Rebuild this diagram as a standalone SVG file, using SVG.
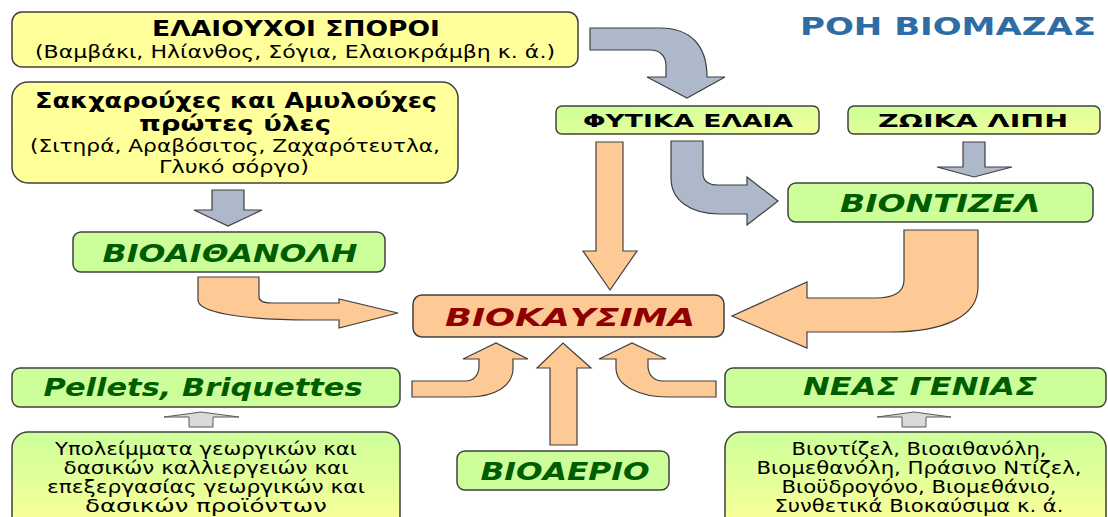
<svg xmlns="http://www.w3.org/2000/svg" width="1108" height="517" viewBox="0 0 1108 517">
<defs>
<linearGradient id="gy" x1="0" y1="0" x2="0" y2="1"><stop offset="0" stop-color="#ffff9c"/><stop offset="1" stop-color="#ffff99"/></linearGradient>
<linearGradient id="gg" x1="0" y1="0" x2="0" y2="1"><stop offset="0" stop-color="#ccff99"/><stop offset="1" stop-color="#ffff99"/></linearGradient>
<linearGradient id="gl" x1="0" y1="0" x2="1" y2="1"><stop offset="0" stop-color="#ccff99"/><stop offset="1" stop-color="#f2ff9c"/></linearGradient>
<style>
.box{stroke:#404040;stroke-width:1.5}
.yel{fill:url(#gy)}
.grn{fill:#ccff99}
.grad{fill:url(#gg)}
.lab{fill:url(#gl)}
.org{fill:#fdca95}
.t{font-family:"DejaVu Sans",Verdana,sans-serif;fill:#000;text-anchor:middle}
.b{font-weight:bold}
.gi{font-weight:bold;font-style:italic;fill:#005c00}
.ri{font-weight:bold;font-style:italic;fill:#8f0000}
.ao{fill:#fdca95;stroke:#404040;stroke-width:1.2}
.ag{fill:#adb9ca;stroke:#404040;stroke-width:1.2}
.as{fill:#d9d9d9;stroke:#595959;stroke-width:1}
</style>
</defs>
<rect width="1108" height="517" fill="#fff"/>
<text class="t b" x="948" y="35" font-size="25" style="fill:#2e6ca4" textLength="296" lengthAdjust="spacingAndGlyphs">ΡΟΗ ΒΙΟΜΑΖΑΣ</text>

<g id="connectors">
<path class="ag" d="M590,28 L660,28 C690,28 707,45 707,77 L725,77 L687,98 L647,77 L666,77 L666,66 C666,56 660,50 650,50 L590,50 Z"/>
<path class="ag" d="M671,141 L703,141 L703,173 C703,181 708,185 718,185 L747,185 L747,177 L778,201 L747,225 L747,214 L720,214 C690,214 671,200 671,178 Z"/>
<path class="ag" d="M212,190 L244,190 L244,210 L262,210 L228,226 L194,210 L212,210 Z"/>
<path class="ag" d="M963,142 L985,142 L985,167 L1012,167 L974,177 L937,167 L963,167 Z"/>
<path class="ao" d="M198,277 L259,277 L259,297 C259,301 263,303 272,303 L339,303 L339,299 L398,313 L339,328 L339,320 L310,320 C240,320 198,312 198,300 Z"/>
<path class="ao" d="M596,142 L623,142 L623,251 L637,251 L610,290 L583,251 L596,251 Z"/>
<path class="ao" d="M904,230 L978,230 L978,287 C978,316 945,332 890,332 L807,332 L807,348 L732,316 L807,282 L807,298 L875,298 C895,298 904,292 904,280 Z"/>
<path class="ao" d="M412,381 L465,381 C474,381 479,375 479,366 L479,359 L463,359 L496,343 L528,359 L513,359 L513,368 C513,386 495,397 468,397 L412,397 Z"/>
<path class="ao" d="M550,445 L577,445 L577,368 L591,368 L563,343 L537,368 L550,368 Z"/>
<path class="ao" d="M716,381 L663,381 C654,381 648,375 648,366 L648,359 L666,359 L632,343 L599,359 L616,359 L616,368 C616,386 640,397 668,397 L716,397 Z"/>
<path class="as" d="M189,427 L213,427 L213,417 L239,417 L201,412 L164,417 L189,417 Z"/>
<path class="as" d="M902,427 L926,427 L926,417 L951,417 L914,412 L877,417 L902,417 Z"/>
</g>

<g id="n-elaiouxoi">
<rect class="box yel" x="12" y="12" width="566" height="55" rx="10"/>
<text class="t b" x="296" y="36" font-size="21" textLength="288" lengthAdjust="spacingAndGlyphs">ΕΛΑΙΟΥΧΟΙ ΣΠΟΡΟΙ</text>
<text class="t" x="295" y="58" font-size="18" textLength="520" lengthAdjust="spacingAndGlyphs">(Βαμβάκι, Ηλίανθος, Σόγια, Ελαιοκράμβη κ. ά.)</text>
</g>
<g id="n-sakxar">
<rect class="box yel" x="12" y="82" width="446" height="101" rx="16"/>
<text class="t b" x="236" y="108" font-size="21" textLength="402" lengthAdjust="spacingAndGlyphs">Σακχαρούχες και Αμυλούχες</text>
<text class="t b" x="235" y="131" font-size="21" textLength="192" lengthAdjust="spacingAndGlyphs">πρώτες ύλες</text>
<text class="t" x="235" y="152" font-size="17.5" textLength="410" lengthAdjust="spacingAndGlyphs">(Σιτηρά, Αραβόσιτος, Ζαχαρότευτλα,</text>
<text class="t" x="234" y="173" font-size="17.5" textLength="150" lengthAdjust="spacingAndGlyphs">Γλυκό σόργο)</text>
</g>
<g id="n-fytika">
<rect class="box lab" x="556" y="106" width="263" height="28" rx="6"/>
<text class="t b" x="688" y="127" font-size="18" textLength="210" lengthAdjust="spacingAndGlyphs">ΦΥΤΙΚΑ ΕΛΑΙΑ</text>
</g>
<g id="n-zoika">
<rect class="box lab" x="848" y="106" width="252" height="28" rx="6"/>
<text class="t b" x="973" y="127" font-size="18" textLength="190" lengthAdjust="spacingAndGlyphs">ΖΩΙΚΑ ΛΙΠΗ</text>
</g>
<g id="n-biontizel">
<rect class="box grn" x="788" y="183" width="305" height="39" rx="8"/>
<text class="t gi" x="940" y="212" font-size="24" textLength="200" lengthAdjust="spacingAndGlyphs">ΒΙΟΝΤΙΖΕΛ</text>
</g>
<g id="n-bioaithanoli">
<rect class="box grn" x="73" y="232" width="312" height="40" rx="8"/>
<text class="t gi" x="230" y="262" font-size="24" textLength="255" lengthAdjust="spacingAndGlyphs">ΒΙΟΑΙΘΑΝΟΛΗ</text>
</g>
<g id="n-biokausima">
<rect class="box org" x="413" y="295" width="311" height="42" rx="9"/>
<text class="t ri" x="570" y="326" font-size="25" textLength="250" lengthAdjust="spacingAndGlyphs">ΒΙΟΚΑΥΣΙΜΑ</text>
</g>
<g id="n-pellets">
<rect class="box grn" x="12" y="368" width="388" height="39" rx="8"/>
<text class="t gi" x="203" y="396" font-size="24" textLength="319" lengthAdjust="spacingAndGlyphs">Pellets, Briquettes</text>
</g>
<g id="n-neas">
<rect class="box grn" x="725" y="368" width="381" height="39" rx="8"/>
<text class="t gi" x="920" y="395" font-size="24" textLength="234" lengthAdjust="spacingAndGlyphs">ΝΕΑΣ ΓΕΝΙΑΣ</text>
</g>
<g id="n-ypoleimmata">
<rect class="box grad" x="12" y="432" width="388" height="100" rx="16"/>
<text class="t" x="206" y="455" font-size="17.5" textLength="302" lengthAdjust="spacingAndGlyphs">Υπολείμματα γεωργικών και</text>
<text class="t" x="206" y="474" font-size="17.5" textLength="285" lengthAdjust="spacingAndGlyphs">δασικών καλλιεργειών και</text>
<text class="t" x="206" y="493" font-size="17.5" textLength="318" lengthAdjust="spacingAndGlyphs">επεξεργασίας γεωργικών και</text>
<text class="t" x="206" y="512" font-size="17.5" textLength="242" lengthAdjust="spacingAndGlyphs">δασικών προϊόντων</text>
</g>
<g id="n-bioaerio">
<rect class="box grn" x="457" y="451" width="212" height="39" rx="8"/>
<text class="t gi" x="565" y="480" font-size="24" textLength="169" lengthAdjust="spacingAndGlyphs">ΒΙΟΑΕΡΙΟ</text>
</g>
<g id="n-neas-list">
<rect class="box grad" x="725" y="432" width="381" height="100" rx="16"/>
<text class="t" x="919" y="455" font-size="17.5" textLength="255" lengthAdjust="spacingAndGlyphs">Βιοντίζελ, Βιοαιθανόλη,</text>
<text class="t" x="919" y="474" font-size="17.5" textLength="325" lengthAdjust="spacingAndGlyphs">Βιομεθανόλη, Πράσινο Ντίζελ,</text>
<text class="t" x="919" y="493" font-size="17.5" textLength="275" lengthAdjust="spacingAndGlyphs">Βιοϋδρογόνο, Βιομεθάνιο,</text>
<text class="t" x="919" y="512" font-size="17.5" textLength="289" lengthAdjust="spacingAndGlyphs">Συνθετικά Βιοκαύσιμα κ. ά.</text>
</g>
</svg>
